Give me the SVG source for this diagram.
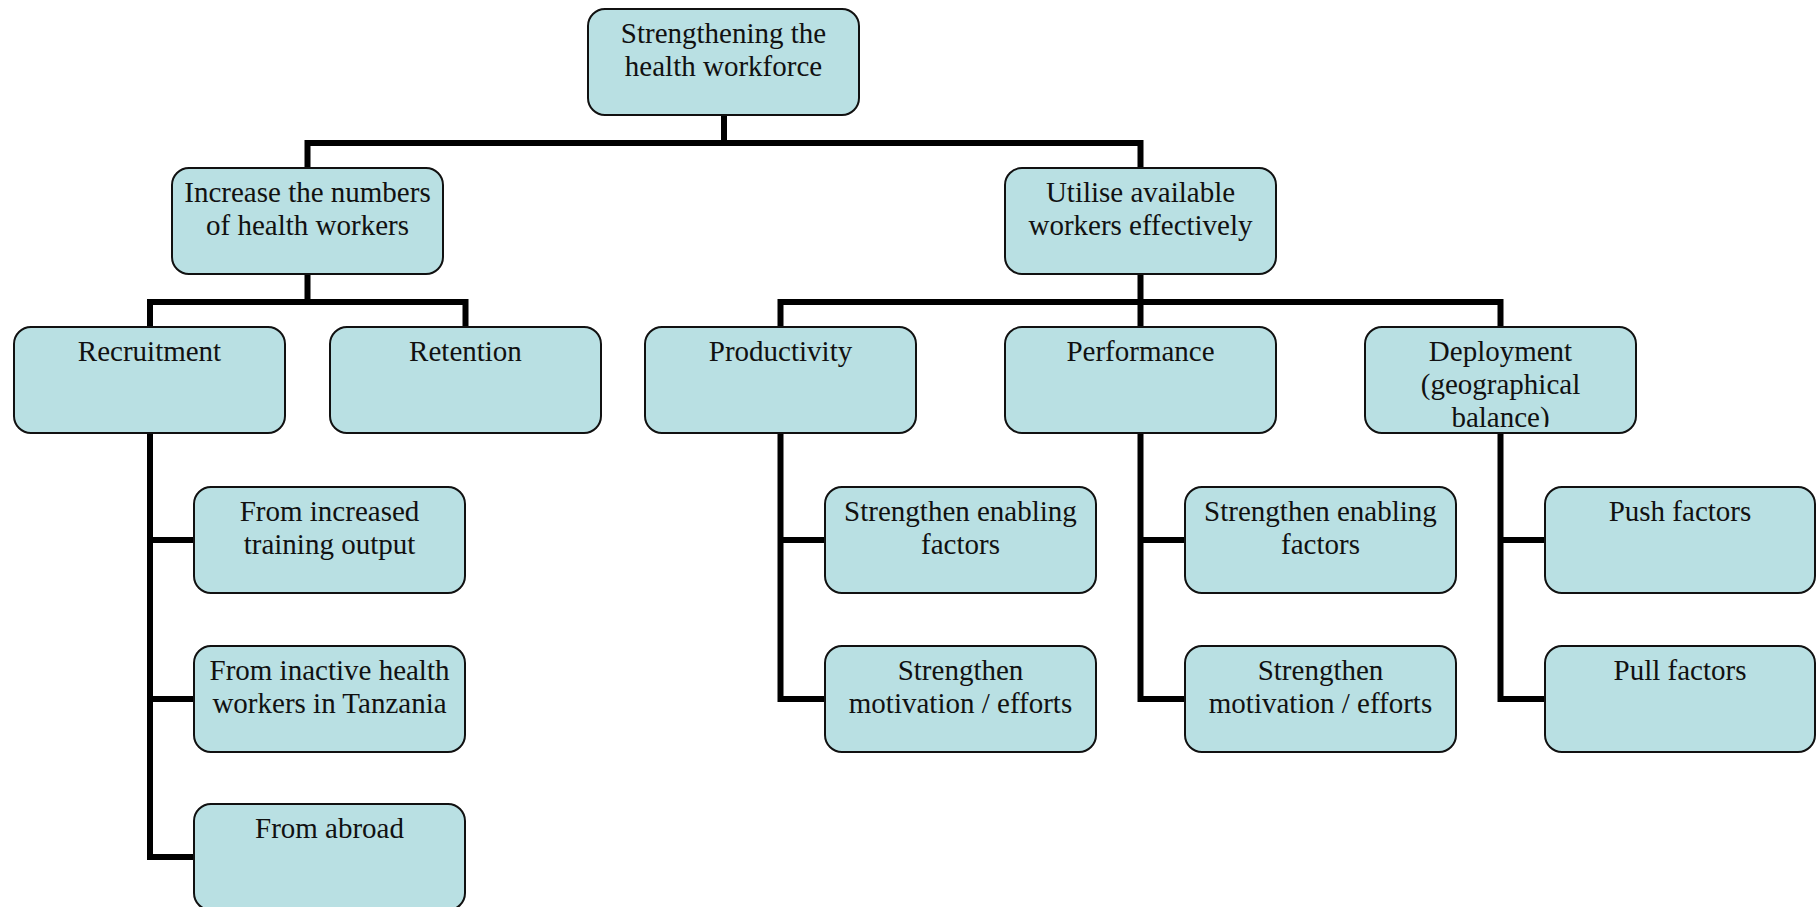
<svg xmlns="http://www.w3.org/2000/svg" width="1816" height="907" viewBox="0 0 1816 907">
<style>
.box{fill:#B9E0E3;stroke:#111;stroke-width:2}
.t{font-family:"Liberation Serif","Times New Roman",serif;font-size:29px;fill:#111;text-anchor:middle}
.c{fill:none;stroke:#000;stroke-width:6;stroke-linejoin:miter;stroke-linecap:butt}
</style>
<defs>
<clipPath id="clipDep"><rect x="1365" y="327" width="271" height="100"/></clipPath>
</defs>
<rect width="1816" height="907" fill="#fff"/>
<g id="connectors">
<path class="c" d="M724 115V143M307.5 168V143H1140.5V168"/>
<path class="c" d="M307.5 274V302M150 327V302H465.5V327"/>
<path class="c" d="M1140.5 274V327M780.5 327V302H1500.5V327"/>
<path class="c" d="M150 433V857H194M150 540H194M150 699H194"/>
<path class="c" d="M780.5 433V699H825M780.5 540H825"/>
<path class="c" d="M1140.5 433V699H1185M1140.5 540H1185"/>
<path class="c" d="M1500.5 433V699H1545M1500.5 540H1545"/>
</g>
<g id="n-root"><rect class="box" x="588" y="9" width="271" height="106" rx="17"/><text class="t" x="723.5" y="43">Strengthening the</text><text class="t" x="723.5" y="76">health workforce</text></g>
<g id="n-increase"><rect class="box" x="172" y="168" width="271" height="106" rx="17"/><text class="t" x="307.5" y="202">Increase the numbers</text><text class="t" x="307.5" y="235">of health workers</text></g>
<g id="n-utilise"><rect class="box" x="1005" y="168" width="271" height="106" rx="17"/><text class="t" x="1140.5" y="202">Utilise available</text><text class="t" x="1140.5" y="235">workers effectively</text></g>
<g id="n-recruitment"><rect class="box" x="14" y="327" width="271" height="106" rx="17"/><text class="t" x="149.5" y="361">Recruitment</text></g>
<g id="n-retention"><rect class="box" x="330" y="327" width="271" height="106" rx="17"/><text class="t" x="465.5" y="361">Retention</text></g>
<g id="n-productivity"><rect class="box" x="645" y="327" width="271" height="106" rx="17"/><text class="t" x="780.5" y="361">Productivity</text></g>
<g id="n-performance"><rect class="box" x="1005" y="327" width="271" height="106" rx="17"/><text class="t" x="1140.5" y="361">Performance</text></g>
<g id="n-deployment"><rect class="box" x="1365" y="327" width="271" height="106" rx="17"/><g clip-path="url(#clipDep)"><text class="t" x="1500.5" y="361">Deployment</text><text class="t" x="1500.5" y="394">(geographical</text><text class="t" x="1500.5" y="427">balance)</text></g></g>
<g id="n-training"><rect class="box" x="194" y="487" width="271" height="106" rx="17"/><text class="t" x="329.5" y="521">From increased</text><text class="t" x="329.5" y="554">training output</text></g>
<g id="n-inactive"><rect class="box" x="194" y="646" width="271" height="106" rx="17"/><text class="t" x="329.5" y="680">From inactive health</text><text class="t" x="329.5" y="713">workers in Tanzania</text></g>
<g id="n-abroad"><rect class="box" x="194" y="804" width="271" height="106" rx="17"/><text class="t" x="329.5" y="838">From abroad</text></g>
<g id="n-prod-enabling"><rect class="box" x="825" y="487" width="271" height="106" rx="17"/><text class="t" x="960.5" y="521">Strengthen enabling</text><text class="t" x="960.5" y="554">factors</text></g>
<g id="n-prod-motivation"><rect class="box" x="825" y="646" width="271" height="106" rx="17"/><text class="t" x="960.5" y="680">Strengthen</text><text class="t" x="960.5" y="713">motivation / efforts</text></g>
<g id="n-perf-enabling"><rect class="box" x="1185" y="487" width="271" height="106" rx="17"/><text class="t" x="1320.5" y="521">Strengthen enabling</text><text class="t" x="1320.5" y="554">factors</text></g>
<g id="n-perf-motivation"><rect class="box" x="1185" y="646" width="271" height="106" rx="17"/><text class="t" x="1320.5" y="680">Strengthen</text><text class="t" x="1320.5" y="713">motivation / efforts</text></g>
<g id="n-push"><rect class="box" x="1545" y="487" width="270" height="106" rx="17"/><text class="t" x="1680" y="521">Push factors</text></g>
<g id="n-pull"><rect class="box" x="1545" y="646" width="270" height="106" rx="17"/><text class="t" x="1680" y="680">Pull factors</text></g>
</svg>
